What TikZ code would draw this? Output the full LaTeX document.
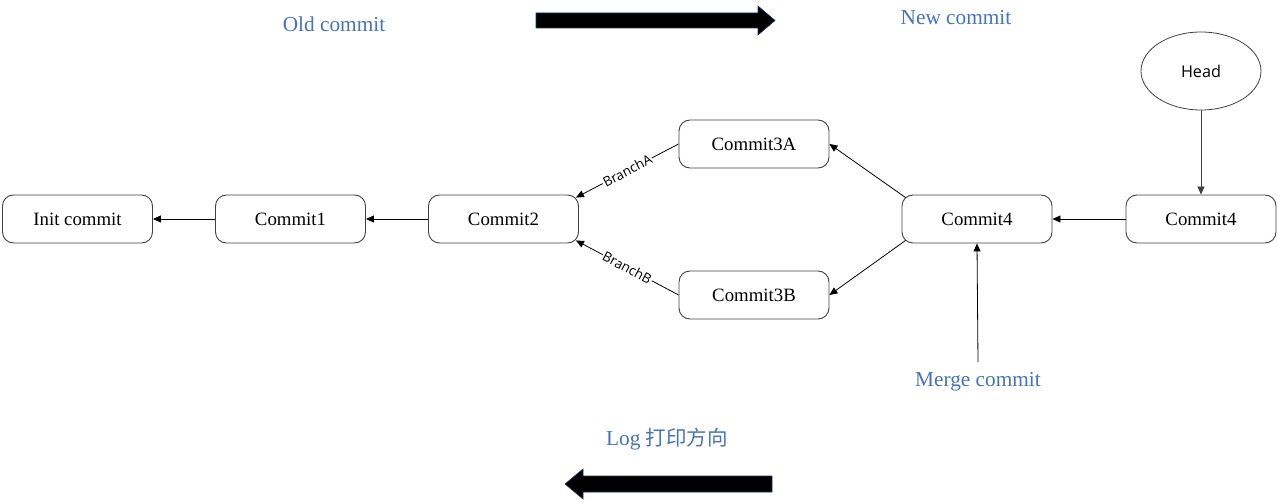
\documentclass[tikz,border=0pt]{standalone}
\usepackage{fontspec}
\setmainfont{Liberation Serif}
\newfontfamily\uisans{Open Sans}
\newfontfamily\cjkfont{Noto Sans CJK SC}
\usetikzlibrary{arrows.meta,shapes.geometric,calc}
\definecolor{lblue}{HTML}{4472C4}
\definecolor{bordergray}{HTML}{404040}
\definecolor{navyedge}{HTML}{1F3864}
\begin{document}
\begin{tikzpicture}[x=1pt,y=-1pt,
  commitbox/.style={draw=bordergray,line width=0.9pt,rounded corners=11pt,minimum width=150pt,minimum height=48pt,inner sep=0pt,font=\fontsize{18.8}{22}\selectfont},
  headnode/.style={draw=bordergray,line width=0.8pt,ellipse,minimum width=120pt,minimum height=78pt,inner sep=0pt,font=\uisans\fontsize{16.2}{19}\selectfont},
  link/.style={draw=black,line width=0.8pt,-{Triangle[length=8pt,width=7pt]}},
  bluetext/.style={text=lblue,font=\fontsize{21.3}{25}\selectfont,inner sep=0pt},
  branchlbl/.style={fill=white,inner sep=1pt,font=\uisans\fontsize{13.5}{15}\selectfont},
  bigarrow/.style={fill=black,draw=navyedge,line width=0.6pt}
]
\useasboundingbox (0,0) rectangle (1278,500);

% nodes
\node[commitbox] (init) at (77.5,219) {Init commit};
\node[commitbox] (c1) at (290.5,219) {Commit1};
\node[commitbox] (c2) at (503.5,219) {Commit2};
\node[commitbox] (c3a) at (754,144) {Commit3A};
\node[commitbox] (c3b) at (754,295) {Commit3B};
\node[commitbox] (c4) at (977,219) {Commit4};
\node[commitbox] (c4r) at (1201,219) {Commit4};
\node[headnode] (head) at (1201,71) {Head};

% labels
\node[bluetext] (old) at (334,24) {Old commit};
\node[bluetext] (new) at (956,18) {New commit};
\node[bluetext] (merge) at (978,382) {Merge commit};
\node[bluetext] (log) at (667,439) {Log {\cjkfont\fontsize{20.5}{24}\selectfont 打印方向}};
\coordinate (mergetop) at (978,362);

% connectors
\draw[link] (c1) -- (init);
\draw[link] (c2) -- (c1);
\draw[link] (c3a.west) -- node[branchlbl,sloped] {BranchA} ($(c2.north east)+(-3,3)$);
\draw[link] (c3b.west) -- node[branchlbl,sloped] {BranchB} ($(c2.south east)+(-3,-3)$);
\draw[link] ($(c4.north west)+(4,3)$) -- (c3a.east);
\draw[link] ($(c4.south west)+(4,-3)$) -- (c3b.east);
\draw[link] (c4r) -- (c4);
\draw[link,draw=bordergray] (head) -- (c4r);
\draw[link] (mergetop) -- (c4.south);

% big arrows
\draw[bigarrow] (536,13) -- (758,13) -- (758,6) -- (775,20.5) -- (758,35) -- (758,28) -- (536,28) -- cycle;
\draw[bigarrow] (772,476) -- (583,476) -- (583,469) -- (565,484) -- (583,499) -- (583,492) -- (772,492) -- cycle;
\end{tikzpicture}
\end{document}
